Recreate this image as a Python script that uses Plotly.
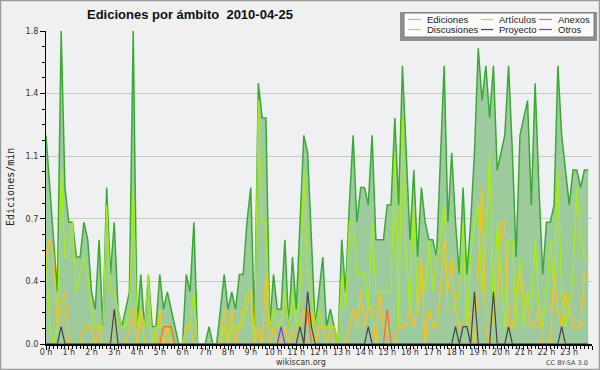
import plotly.graph_objects as go
import pandas as pd

# ---- data (edits per minute, 10-minute buckets, 2010-04-25) ----
times = pd.date_range("2010-04-25 00:00", periods=144, freq="10min")
hours = [t.hour + t.minute / 60 for t in times]

ediciones = [
    1.2, 0.9, 0.6, 0.3, 1.8, 0.9, 0.7, 0.7, 0.5, 0.5, 0.7, 0.6,
    0.3, 0.2, 0.6, 0.1, 0.9, 0.4, 0.7, 0.2, 0.1, 0.2, 0.3, 1.8,
    0.1, 0.4, 0.1, 0.4, 0.1, 0.1, 0.4, 0.2, 0.3, 0.2, 0.1, 0.0,
    0.0, 0.4, 0.3, 0.7, 0.0, 0.0, 0.0, 0.1, 0.0, 0.0, 0.2, 0.4,
    0.2, 0.3, 0.2, 0.4, 0.4, 0.7, 0.9, 0.1, 1.5, 1.3, 1.3, 0.1,
    0.4, 0.2, 0.2, 0.6, 0.1, 0.5, 0.2, 0.7, 1.2, 1.1, 0.6, 0.1,
    0.3, 0.5, 0.1, 0.2, 0.1, 0.0, 0.6, 0.3, 0.8, 1.2, 0.7, 0.9,
    0.9, 0.8, 1.2, 0.6, 0.6, 0.6, 0.8, 0.8, 1.3, 0.8, 1.6, 1.1,
    0.6, 1.0, 0.5, 0.9, 0.7, 0.6, 0.6, 0.5, 1.0, 1.6, 0.7, 1.1,
    0.7, 0.4, 0.9, 0.4, 0.7, 1.1, 1.7, 1.4, 1.6, 1.3, 1.6, 1.0,
    1.1, 1.2, 1.6, 1.1, 0.5, 1.2, 1.3, 1.4, 0.8, 1.5, 0.9, 0.4,
    0.7, 0.7, 0.8, 1.6, 1.2, 1.0, 0.8, 1.0, 1.0, 0.9, 1.0, 1.0,
]
articulos = [
    0.5, 0.1, 0.0, 0.1, 1.0, 0.5, 0.5, 0.7, 0.3, 0.4, 0.5, 0.4,
    0.2, 0.1, 0.1, 0.1, 0.8, 0.3, 0.3, 0.2, 0.1, 0.1, 0.2, 0.9,
    0.1, 0.2, 0.1, 0.4, 0.0, 0.1, 0.1, 0.1, 0.1, 0.0, 0.0, 0.0,
    0.0, 0.1, 0.1, 0.3, 0.0, 0.0, 0.0, 0.0, 0.0, 0.0, 0.0, 0.1,
    0.0, 0.1, 0.1, 0.1, 0.1, 0.3, 0.3, 0.0, 1.4, 0.7, 0.7, 0.1,
    0.2, 0.1, 0.1, 0.3, 0.1, 0.3, 0.1, 0.3, 1.0, 0.4, 0.3, 0.1,
    0.2, 0.1, 0.1, 0.1, 0.1, 0.0, 0.4, 0.2, 0.7, 0.7, 0.4, 0.4,
    0.4, 0.2, 0.7, 0.3, 0.3, 0.3, 0.3, 0.3, 1.1, 0.1, 1.3, 0.5,
    0.2, 0.8, 0.2, 0.4, 0.3, 0.6, 0.3, 0.5, 0.6, 0.8, 0.2, 0.2,
    0.2, 0.3, 0.7, 0.1, 0.5, 0.7, 0.8, 0.3, 0.6, 1.1, 0.1, 0.7,
    0.4, 0.1, 0.6, 0.6, 0.1, 0.5, 0.1, 0.3, 0.2, 0.6, 0.2, 0.1,
    0.3, 0.6, 0.3, 1.0, 0.3, 0.1, 0.2, 0.4, 0.9, 0.6, 0.5, 0.5,
]
discusiones = [
    0.5, 0.6, 0.5, 0.1, 0.2, 0.3, 0.0, 0.0, 0.0, 0.0, 0.1, 0.1,
    0.1, 0.0, 0.1, 0.0, 0.0, 0.0, 0.2, 0.0, 0.0, 0.0, 0.1, 0.2,
    0.0, 0.2, 0.0, 0.0, 0.0, 0.0, 0.2, 0.0, 0.1, 0.0, 0.0, 0.0,
    0.0, 0.1, 0.1, 0.0, 0.0, 0.0, 0.0, 0.0, 0.0, 0.0, 0.0, 0.2,
    0.0, 0.2, 0.0, 0.1, 0.2, 0.2, 0.3, 0.0, 0.1, 0.0, 0.4, 0.0,
    0.1, 0.0, 0.0, 0.1, 0.0, 0.1, 0.0, 0.1, 0.2, 0.1, 0.2, 0.0,
    0.1, 0.1, 0.0, 0.1, 0.0, 0.0, 0.0, 0.0, 0.1, 0.2, 0.1, 0.3,
    0.1, 0.2, 0.2, 0.0, 0.3, 0.1, 0.1, 0.0, 0.0, 0.1, 0.1, 0.1,
    0.2, 0.1, 0.2, 0.5, 0.0, 0.2, 0.1, 0.1, 0.3, 0.6, 0.3, 0.5,
    0.2, 0.1, 0.1, 0.1, 0.2, 0.0, 0.4, 0.9, 0.1, 0.0, 0.2, 0.2,
    0.7, 0.7, 0.1, 0.1, 0.3, 0.4, 0.3, 0.2, 0.1, 0.1, 0.2, 0.0,
    0.0, 0.0, 0.4, 0.2, 0.1, 0.3, 0.2, 0.1, 0.1, 0.1, 0.4, 0.4,
]
proyecto = [
    0.0, 0.0, 0.0, 0.0, 0.1, 0.0, 0.0, 0.0, 0.0, 0.0, 0.0, 0.0,
    0.0, 0.0, 0.0, 0.0, 0.0, 0.0, 0.2, 0.0, 0.0, 0.0, 0.0, 0.0,
    0.0, 0.0, 0.0, 0.0, 0.0, 0.0, 0.0, 0.0, 0.0, 0.0, 0.0, 0.0,
    0.0, 0.0, 0.0, 0.0, 0.0, 0.0, 0.0, 0.0, 0.0, 0.0, 0.0, 0.0,
    0.0, 0.0, 0.0, 0.0, 0.0, 0.0, 0.0, 0.0, 0.0, 0.0, 0.0, 0.0,
    0.0, 0.0, 0.0, 0.0, 0.0, 0.0, 0.0, 0.1, 0.0, 0.3, 0.1, 0.0,
    0.0, 0.0, 0.0, 0.0, 0.0, 0.0, 0.0, 0.0, 0.0, 0.0, 0.0, 0.0,
    0.0, 0.1, 0.0, 0.0, 0.0, 0.0, 0.0, 0.0, 0.0, 0.0, 0.0, 0.0,
    0.0, 0.0, 0.0, 0.0, 0.0, 0.0, 0.0, 0.0, 0.0, 0.0, 0.0, 0.0,
    0.1, 0.0, 0.1, 0.1, 0.0, 0.3, 0.0, 0.0, 0.0, 0.0, 0.3, 0.0,
    0.0, 0.0, 0.1, 0.0, 0.0, 0.0, 0.0, 0.0, 0.0, 0.0, 0.0, 0.0,
    0.0, 0.0, 0.0, 0.0, 0.1, 0.0, 0.0, 0.0, 0.0, 0.0, 0.0, 0.0,
]
anexos = [
    0.0, 0.0, 0.0, 0.0, 0.0, 0.0, 0.0, 0.0, 0.0, 0.0, 0.0, 0.0,
    0.0, 0.0, 0.0, 0.0, 0.0, 0.0, 0.0, 0.0, 0.0, 0.0, 0.0, 0.0,
    0.0, 0.0, 0.0, 0.0, 0.0, 0.0, 0.0, 0.1, 0.1, 0.1, 0.0, 0.0,
    0.0, 0.0, 0.0, 0.0, 0.0, 0.0, 0.0, 0.0, 0.0, 0.0, 0.0, 0.0,
    0.0, 0.0, 0.0, 0.0, 0.0, 0.0, 0.0, 0.0, 0.0, 0.0, 0.0, 0.0,
    0.0, 0.0, 0.0, 0.0, 0.0, 0.0, 0.0, 0.0, 0.0, 0.2, 0.0, 0.0,
    0.0, 0.0, 0.0, 0.0, 0.0, 0.0, 0.0, 0.0, 0.0, 0.0, 0.0, 0.0,
    0.0, 0.0, 0.0, 0.0, 0.0, 0.0, 0.2, 0.0, 0.0, 0.0, 0.0, 0.0,
    0.0, 0.0, 0.0, 0.0, 0.0, 0.0, 0.0, 0.0, 0.0, 0.0, 0.0, 0.0,
    0.0, 0.0, 0.0, 0.0, 0.0, 0.0, 0.0, 0.0, 0.0, 0.0, 0.0, 0.0,
    0.0, 0.0, 0.0, 0.0, 0.0, 0.0, 0.0, 0.0, 0.0, 0.0, 0.0, 0.0,
    0.0, 0.0, 0.0, 0.0, 0.0, 0.0, 0.0, 0.0, 0.0, 0.0, 0.0, 0.0,
]
otros = [
    0.0, 0.0, 0.0, 0.0, 0.0, 0.0, 0.0, 0.0, 0.0, 0.0, 0.0, 0.0,
    0.0, 0.0, 0.0, 0.0, 0.0, 0.0, 0.0, 0.0, 0.0, 0.0, 0.0, 0.0,
    0.0, 0.0, 0.0, 0.0, 0.0, 0.0, 0.0, 0.0, 0.0, 0.0, 0.0, 0.0,
    0.0, 0.0, 0.0, 0.0, 0.0, 0.0, 0.0, 0.0, 0.0, 0.0, 0.0, 0.0,
    0.0, 0.0, 0.0, 0.0, 0.0, 0.0, 0.0, 0.0, 0.0, 0.0, 0.0, 0.0,
    0.0, 0.0, 0.1, 0.0, 0.0, 0.0, 0.0, 0.0, 0.0, 0.0, 0.0, 0.0,
    0.0, 0.0, 0.0, 0.0, 0.0, 0.0, 0.0, 0.0, 0.0, 0.0, 0.0, 0.0,
    0.0, 0.0, 0.0, 0.0, 0.0, 0.0, 0.0, 0.0, 0.0, 0.0, 0.0, 0.0,
    0.0, 0.0, 0.0, 0.0, 0.0, 0.0, 0.0, 0.0, 0.0, 0.0, 0.0, 0.0,
    0.0, 0.0, 0.0, 0.0, 0.0, 0.0, 0.0, 0.0, 0.0, 0.0, 0.0, 0.0,
    0.0, 0.0, 0.0, 0.0, 0.0, 0.0, 0.0, 0.0, 0.0, 0.0, 0.0, 0.0,
    0.0, 0.0, 0.0, 0.0, 0.0, 0.0, 0.0, 0.0, 0.0, 0.0, 0.0, 0.0,
]

hour_ticks = list(range(25))
hour_labels = [f"{h} h" for h in range(24)] + [""]
y_ticks = [0, 0.36, 0.72, 1.08, 1.44, 1.8]
y_labels = ["0.0", "0.4", "0.7", "1.1", "1.4", "1.8"]

legend_names = ["Ediciones", "Artículos", "Anexos", "Discusiones", "Proyecto", "Otros"]

C_ED = "#3aaa35"
C_FILL = "#9ecb9e"
C_ART = "#aaee11"
C_DIS = "#ffc20e"
C_ANX = "#ff6a1f"
C_PRO = "#444444"
C_OTR = "#8833ee"
legend_colors = [C_FILL, C_ART, C_ANX, C_DIS, C_PRO, C_OTR]

# ---- geometry ----
W, H = 600, 370
ML, MR, MT, MB = 46, 8, 31, 26
PW, PH = W - ML - MR, H - MT - MB


def px_x(px):
    return (px - ML) / PW


def px_y(py):
    return (H - MB - py) / PH


fig = go.Figure()
fig.add_trace(go.Scatter(x=hours, y=ediciones, mode="lines", fill="tozeroy",
                         fillcolor=C_FILL, line=dict(color=C_ED, width=1.5),
                         name="Ediciones", showlegend=False))
for vals, col, nm in [(articulos, C_ART, "Artículos"), (discusiones, C_DIS, "Discusiones"),
                      (anexos, C_ANX, "Anexos"), (proyecto, C_PRO, "Proyecto"),
                      (otros, C_OTR, "Otros")]:
    fig.add_trace(go.Scatter(x=hours, y=vals, mode="lines",
                             line=dict(color=col, width=1.2), name=nm, showlegend=False))

shapes = []
annotations = []

# outer border
shapes.append(dict(type="rect", xref="paper", yref="paper",
                   x0=px_x(0.5), x1=px_x(W - 0.5), y0=px_y(H - 0.5), y1=px_y(0.5),
                   line=dict(color="#9a9a9a", width=1.5), fillcolor="rgba(0,0,0,0)",
                   layer="above"))

# legend box with shadow
shapes.append(dict(type="rect", xref="paper", yref="paper",
                   x0=px_x(400), x1=px_x(597), y0=px_y(41), y1=px_y(12),
                   line=dict(width=0), fillcolor="#8f8f8f", layer="above"))
shapes.append(dict(type="rect", xref="paper", yref="paper",
                   x0=px_x(404), x1=px_x(594), y0=px_y(37), y1=px_y(13),
                   line=dict(color="#7a7a7a", width=1), fillcolor="#fbfbfb", layer="above"))
cols_line = [(408, 421, 425), (481, 493, 497), (539, 552, 556)]
rows_y = [19.5, 29.5]
for k, (nm, col) in enumerate(zip(legend_names, legend_colors)):
    r, c = divmod(k, 3)
    lx0, lx1, tx = cols_line[c]
    yy = rows_y[r]
    shapes.append(dict(type="line", xref="paper", yref="paper",
                       x0=px_x(lx0), x1=px_x(lx1), y0=px_y(yy), y1=px_y(yy),
                       line=dict(color=col, width=1.2), layer="above"))
    annotations.append(dict(text=nm, xref="paper", yref="paper", x=px_x(tx), y=px_y(yy),
                            xanchor="left", yanchor="middle", showarrow=False,
                            font=dict(family="Liberation Sans", size=9.5, color="#222222")))

# title
annotations.append(dict(text="<b>Ediciones por ámbito \u00a02010-04-25</b>", xref="paper", yref="paper",
                        x=px_x(85), y=px_y(14), xanchor="left", yanchor="middle",
                        showarrow=False,
                        font=dict(family="Liberation Sans", size=13, color="#111111")))
# y axis title
annotations.append(dict(text="Ediciones/min", xref="paper", yref="paper",
                        x=px_x(10), y=px_y(187), xanchor="center", yanchor="middle",
                        textangle=-90, showarrow=False,
                        font=dict(family="DejaVu Sans Mono", size=10, color="#222222")))
# footer
annotations.append(dict(text="wikiscan.org", xref="paper", yref="paper",
                        x=px_x(301), y=px_y(362), xanchor="center", yanchor="middle",
                        showarrow=False,
                        font=dict(family="DejaVu Sans", size=8, color="#333333")))
annotations.append(dict(text="CC BY-SA 3.0", xref="paper", yref="paper",
                        x=px_x(590), y=px_y(363), xanchor="right", yanchor="middle",
                        showarrow=False,
                        font=dict(family="DejaVu Sans", size=6.5, color="#444444")))

fig.update_layout(
    width=W, height=H,
    margin=dict(l=ML, r=MR, t=MT, b=MB),
    paper_bgcolor="#f0f0f0",
    plot_bgcolor="#eef0f1",
    shapes=shapes,
    annotations=annotations,
    showlegend=False,
    xaxis=dict(
        range=[0, 24], tickmode="array", tickvals=hour_ticks, ticktext=hour_labels,
        ticks="outside", ticklen=4, tickwidth=1, tickcolor="black",
        showline=True, linecolor="black", linewidth=2, showgrid=False, zeroline=False,
        tickfont=dict(family="DejaVu Sans", size=8, color="#333333"),
        ticklabelstandoff=-5,
        minor=dict(dtick=1 / 6, tick0=0, ticks="outside", ticklen=3, tickcolor="black",
                   tickwidth=1, showgrid=False),
        fixedrange=True,
    ),
    yaxis=dict(
        range=[0, 1.8], tickmode="array", tickvals=y_ticks, ticktext=y_labels,
        ticks="outside", ticklen=5, tickwidth=1, tickcolor="black",
        showline=True, linecolor="black", linewidth=1.2,
        showgrid=True, gridcolor="#c9c9c9", gridwidth=1, zeroline=False,
        tickfont=dict(family="DejaVu Sans", size=8, color="#333333"),
        minor=dict(dtick=0.09, tick0=0, ticks="outside", ticklen=3, tickcolor="black",
                   tickwidth=1, showgrid=False),
        fixedrange=True,
    ),
)

fig.write_html("out.html", config={"displayModeBar": False},
               post_script="document.body.style.margin='0';document.body.style.overflow='hidden';")
